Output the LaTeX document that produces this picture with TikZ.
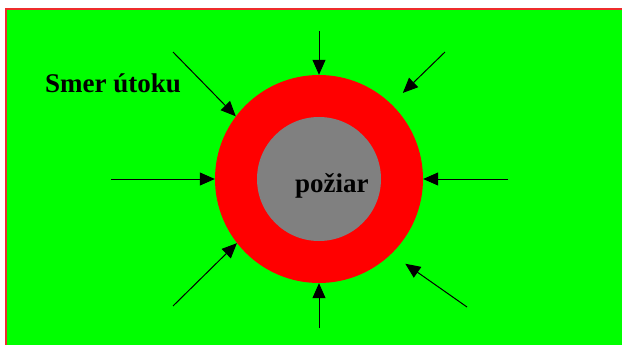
\documentclass[tikz,border=0pt]{standalone}
\usepackage{fontspec}
\setmainfont{Liberation Serif}
\usetikzlibrary{arrows.meta}
\definecolor{fieldgreen}{RGB}{0,255,0}
\definecolor{framered}{RGB}{238,44,44}
\definecolor{firegray}{RGB}{128,128,128}
\begin{document}
\begin{tikzpicture}[x=1pt,y=-1pt,
		zone/.style={circle,fill=red,inner sep=0pt,minimum size=208pt},
		core/.style={circle,fill=firegray,inner sep=0pt,minimum size=124pt},
		caption/.style={inner sep=0pt,anchor=base west,font=\fontsize{27}{31}\selectfont\bfseries},
		attack/.style={-{Triangle[length=15pt,width=13pt]},line width=1pt}]
	\useasboundingbox (0,0) rectangle (622,345);
	% field with its frame on top and left
	\fill[fieldgreen] (6,9) rectangle (622,345);
	\draw[framered,line width=2pt] (6,345) -- (6,9) -- (622,9);
	% fire and the burning ring
	\node[zone] (ring) at (319,179) {};
	\node[core] (fire) at (319,179) {};
	\node[caption] (firetext) at (295,192) {požiar};
	\node[caption] (direction) at (45,93) {Smer útoku};
	% starting points of the attacks
	\coordinate (w)  at (111,179);
	\coordinate (e)  at (508,179);
	\coordinate (n)  at (319,31);
	\coordinate (s)  at (319,328);
	\coordinate (nw) at (173,52);
	\coordinate (ne) at (445,52);
	\coordinate (sw) at (173,306);
	\coordinate (se) at (467,307);
	\draw[attack] (w)  -- (ring.180);
	\draw[attack] (e)  -- (ring.0);
	\draw[attack] (n)  -- (ring.90);
	\draw[attack] (s)  -- (ring.270);
	\draw[attack] (nw) -- (ring.143);
	\draw[attack,shorten >=16pt] (ne) -- (ring.46);
	\draw[attack] (sw) -- (ring.218);
	\draw[attack,shorten >=17pt] (se) -- (ring.314);
\end{tikzpicture}
\end{document}
